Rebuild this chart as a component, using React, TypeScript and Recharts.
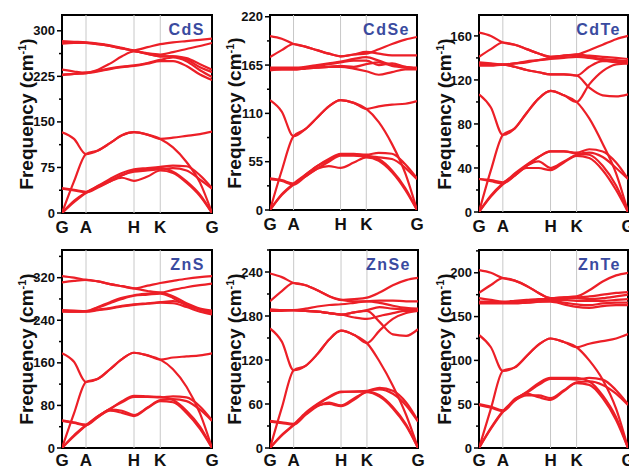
import React from "react";
import { LineChart, Line, XAxis, YAxis, ReferenceLine, ReferenceArea } from "recharts";

// q-path positions (fraction of the G-A-H-K-G path)
const qPoints = [0, 0.08, 0.16, 0.24, 0.32, 0.4, 0.48, 0.57, 0.655, 0.74, 0.83, 0.92, 1];
const symTicks = [0, 0.16, 0.48, 0.655, 1];
const symLabels = ["G", "A", "H", "K", "G"];

// phonon branches, frequency in cm-1 at each q point
const cdsBranches = [
  [283, 282, 281, 279, 276, 272, 268, 273, 278, 281, 283, 285, 287],
  [281, 281, 280, 278, 275, 271, 267, 263, 261, 265, 270, 275, 280],
  [279, 280, 280, 278, 275, 271, 267, 262, 258, 258, 253, 240, 232],
  [236, 233, 231, 236, 246, 258, 266, 262, 258, 258, 255, 245, 236],
  [228, 229, 231, 234, 238, 241, 243, 247, 252, 256, 250, 235, 224],
  [227, 229, 230, 233, 237, 240, 242, 246, 250, 250, 242, 228, 219],
  [0, 52, 97, 103, 115, 128, 133, 129, 122, 124, 127, 130, 134],
  [133, 122, 97, 103, 115, 128, 133, 129, 122, 108, 84, 50, 0],
  [0, 20, 34, 44, 53, 62, 70, 72, 74, 68, 52, 30, 0],
  [0, 18, 33, 43, 52, 58, 53, 60, 70, 66, 50, 28, 0],
  [41, 38, 35, 45, 56, 66, 72, 74, 76, 78, 77, 62, 41],
  [40, 37, 34, 42, 52, 62, 68, 70, 72, 74, 70, 55, 40],
];

const cdseBranches = [
  [198, 195, 189, 186, 182, 178, 175, 177, 178, 183, 189, 194, 197],
  [174, 182, 189, 186, 182, 178, 175, 177, 180, 178, 176, 176, 176],
  [162, 162, 162, 163, 165, 167, 169, 172, 174, 170, 165, 163, 162],
  [161, 161, 161, 162, 164, 166, 168, 170, 170, 165, 167, 163, 161],
  [160, 160, 160, 161, 162, 163, 164, 163, 166, 168, 164, 162, 161],
  [159, 160, 160, 161, 162, 163, 163, 161, 158, 154, 157, 160, 160],
  [0, 45, 84, 92, 105, 118, 125, 122, 115, 118, 120, 121, 124],
  [125, 112, 84, 92, 105, 118, 125, 122, 115, 100, 75, 42, 0],
  [0, 18, 30, 40, 50, 57, 63, 63, 62, 58, 45, 25, 0],
  [0, 17, 29, 38, 47, 50, 48, 54, 60, 56, 43, 23, 0],
  [36, 34, 30, 40, 50, 58, 64, 64, 63, 65, 64, 52, 36],
  [35, 33, 29, 38, 47, 55, 62, 62, 61, 60, 58, 48, 35],
];

const cdteBranches = [
  [163, 160, 154, 152, 148, 144, 141, 142, 143, 147, 152, 157, 160],
  [141, 148, 154, 152, 148, 144, 141, 142, 143, 142, 141, 140, 139],
  [136, 135, 134, 135, 137, 138, 140, 142, 143, 141, 139, 138, 137],
  [135, 134, 134, 135, 136, 138, 139, 140, 141, 140, 138, 136, 135],
  [134, 134, 134, 132, 129, 127, 125, 125, 124, 132, 137, 137, 136],
  [133, 133, 134, 132, 129, 127, 125, 125, 124, 113, 106, 105, 107],
  [0, 38, 70, 76, 90, 103, 110, 106, 100, 116, 128, 134, 135],
  [107, 95, 70, 76, 90, 103, 110, 106, 100, 85, 62, 35, 0],
  [0, 15, 26, 34, 42, 50, 55, 55, 53, 52, 42, 24, 0],
  [0, 14, 25, 33, 40, 40, 38, 45, 51, 49, 38, 20, 0],
  [30, 29, 27, 35, 43, 50, 55, 55, 54, 57, 55, 45, 30],
  [30, 28, 26, 33, 42, 46, 40, 46, 52, 54, 50, 40, 30],
];

const znsBranches = [
  [323, 320, 316, 313, 308, 304, 300, 305, 310, 314, 318, 321, 323],
  [311, 314, 316, 313, 308, 304, 300, 295, 292, 297, 302, 306, 309],
  [259, 258, 257, 265, 274, 282, 287, 290, 292, 285, 272, 262, 258],
  [258, 257, 257, 264, 272, 280, 286, 288, 290, 282, 268, 260, 255],
  [257, 256, 257, 260, 263, 267, 270, 272, 274, 276, 270, 260, 253],
  [256, 256, 256, 259, 262, 266, 269, 271, 273, 272, 265, 256, 251],
  [0, 65, 124, 130, 148, 167, 179, 174, 166, 170, 172, 174, 178],
  [178, 162, 124, 130, 148, 167, 179, 174, 166, 148, 115, 65, 0],
  [0, 24, 43, 60, 73, 88, 98, 97, 96, 90, 70, 40, 0],
  [0, 22, 42, 58, 70, 66, 60, 75, 88, 86, 66, 36, 0],
  [52, 48, 44, 60, 74, 86, 96, 96, 95, 97, 95, 78, 52],
  [51, 47, 43, 58, 72, 70, 62, 76, 90, 92, 88, 72, 51],
];

const znseBranches = [
  [238, 233, 225, 222, 215, 207, 202, 203, 205, 212, 222, 229, 232],
  [200, 214, 225, 222, 215, 207, 202, 200, 200, 201, 201, 200, 200],
  [189, 188, 188, 190, 193, 195, 196, 198, 200, 198, 194, 191, 190],
  [188, 188, 188, 187, 186, 184, 182, 185, 188, 192, 190, 189, 188],
  [187, 188, 188, 187, 186, 184, 182, 185, 187, 172, 155, 153, 162],
  [187, 187, 188, 187, 186, 184, 182, 178, 176, 180, 184, 187, 187],
  [0, 55, 106, 112, 128, 148, 160, 154, 143, 160, 176, 184, 187],
  [163, 145, 106, 112, 128, 148, 160, 154, 143, 118, 85, 45, 0],
  [0, 18, 32, 48, 60, 70, 77, 77, 77, 72, 56, 32, 0],
  [0, 17, 31, 46, 58, 60, 57, 66, 76, 70, 54, 30, 0],
  [37, 35, 33, 47, 59, 69, 76, 77, 78, 82, 78, 62, 37],
  [36, 34, 32, 45, 57, 62, 58, 68, 77, 80, 74, 58, 36],
];

const znteBranches = [
  [203, 200, 194, 191, 185, 177, 171, 172, 173, 180, 190, 197, 200],
  [177, 186, 194, 191, 185, 177, 171, 172, 172, 173, 175, 177, 178],
  [171, 169, 167, 168, 169, 170, 170, 171, 171, 170, 171, 173, 175],
  [167, 167, 166, 167, 168, 169, 169, 169, 168, 168, 168, 169, 170],
  [166, 166, 166, 166, 166, 167, 168, 166, 164, 163, 165, 166, 166],
  [165, 165, 165, 165, 166, 167, 167, 164, 161, 160, 162, 163, 163],
  [0, 45, 88, 92, 105, 118, 125, 121, 115, 119, 122, 125, 130],
  [129, 115, 88, 92, 105, 118, 125, 121, 115, 100, 78, 45, 0],
  [0, 23, 42, 55, 64, 74, 80, 80, 80, 76, 60, 35, 0],
  [0, 22, 41, 54, 62, 58, 55, 65, 74, 72, 57, 32, 0],
  [50, 47, 43, 56, 63, 72, 79, 79, 78, 80, 78, 66, 50],
  [49, 46, 42, 54, 60, 60, 57, 66, 75, 76, 72, 62, 49],
];

const materials = ["CdS", "CdSe", "CdTe", "ZnS", "ZnSe", "ZnTe"];
const allBranches = [cdsBranches, cdseBranches, cdteBranches, znsBranches, znseBranches, znteBranches];
const yMaxes = [326, 222, 179, 372, 270, 226];
const majorTicks = [
  [0, 75, 150, 225, 300],
  [0, 55, 110, 165, 220],
  [0, 40, 80, 120, 160],
  [0, 80, 160, 240, 320],
  [0, 60, 120, 180, 240],
  [0, 50, 100, 150, 200],
];
const minorSteps = [37.5, 27.5, 20, 40, 30, 25];

// plot boxes in page pixels: left, top, width, height, y-label centre x, x-label gap
const boxes = [
  { l: 62, t: 15, w: 150, h: 198, lx: 24, gap: 8 },
  { l: 270, t: 15, w: 147, h: 195, lx: 232, gap: 8 },
  { l: 479, t: 15, w: 149, h: 197, lx: 442, gap: 8 },
  { l: 62, t: 250, w: 150, h: 198, lx: 24, gap: 6 },
  { l: 270, t: 250, w: 148, h: 198, lx: 232, gap: 6 },
  { l: 479, t: 250, w: 149, h: 198, lx: 442, gap: 6 },
];

const FONT = "'Liberation Sans', Arial, Helvetica, sans-serif";
const RED = "#ec1f27";

function YTick(props: any) {
  const { x, y, payload, majors } = props;
  const major = majors.some((m: number) => Math.abs(m - payload.value) < 0.01);
  return (
    <g>
      <line x1={x} x2={x - (major ? 5 : 3)} y1={y} y2={y} stroke="#000" strokeWidth={1.5} />
      {major && (
        <text x={x - 7} y={y} dy={4.6} textAnchor="end" fontSize={13} fontWeight={700} fontFamily={FONT} fill="#111">
          {payload.value}
        </text>
      )}
    </g>
  );
}

function Panel({ idx }: { idx: number }) {
  const box = boxes[idx];
  const yMax = yMaxes[idx];
  const majors = majorTicks[idx];
  const ticks: number[] = [];
  for (let v = 0; v <= yMax + 0.001; v += minorSteps[idx]) ticks.push(v);
  const series = allBranches[idx].map((b) => b.map((y, i) => ({ x: qPoints[i], y })));
  const mL = 50, mT = 5, mR = 8, xH = 26;

  return (
    <>
      <div style={{ position: "absolute", left: box.l - mL, top: box.t - mT }}>
        <LineChart width={box.w + mL + mR} height={box.h + mT + xH} margin={{ top: mT, right: mR, left: 0, bottom: 0 }}>
          <XAxis
            type="number"
            dataKey="x"
            domain={[0, 1]}
            ticks={symTicks}
            interval={0}
            tickFormatter={(v: number) => symLabels[symTicks.indexOf(v)]}
            height={xH}
            axisLine={false}
            tickLine={false}
            tickSize={0}
            tickMargin={box.gap}
            tick={{ fill: "#111", fontSize: 17, fontWeight: 700, fontFamily: FONT }}
            allowDataOverflow
          />
          <YAxis
            type="number"
            domain={[0, yMax]}
            ticks={ticks}
            interval={0}
            width={mL}
            axisLine={false}
            tickLine={false}
            tickSize={0}
            tickMargin={0}
            tick={(p: any) => <YTick {...p} majors={majors} />}
            allowDataOverflow
          />
          {symTicks.slice(1, 4).map((x) => (
            <ReferenceLine key={x} x={x} stroke="#c8c8c8" strokeWidth={1} />
          ))}
          {series.map((d, i) => (
            <Line
              key={i}
              data={d}
              dataKey="y"
              type="monotone"
              stroke={RED}
              strokeWidth={2.2}
              dot={false}
              isAnimationActive={false}
            />
          ))}
          <ReferenceArea x1={0} x2={1} y1={0} y2={yMax} fill="none" fillOpacity={0} stroke="#000" strokeWidth={2} />
        </LineChart>
      </div>
      <div
        style={{
          position: "absolute",
          left: box.lx,
          top: box.t + box.h / 2,
          transform: "translate(-50%, -50%) rotate(-90deg)",
          whiteSpace: "nowrap",
          fontFamily: FONT,
          fontWeight: 700,
          fontSize: 19,
          color: "#111",
          lineHeight: "20px",
        }}
      >
        Frequency (cm<sup style={{ fontSize: 11, verticalAlign: "7px" }}>-1</sup>)
      </div>
      <div
        style={{
          position: "absolute",
          right: 629 - (box.l + box.w - 7),
          top: box.t + 6,
          fontFamily: FONT,
          fontWeight: 700,
          fontSize: 16,
          lineHeight: "18px",
          letterSpacing: 1.5,
          color: "#3a4b9f",
        }}
      >
        {materials[idx]}
      </div>
    </>
  );
}

export default function App() {
  return (
    <div style={{ position: "absolute", left: 0, top: 0, width: 629, height: 469, background: "#fff", overflow: "hidden" }}>
      {materials.map((m, i) => (
        <Panel key={m} idx={i} />
      ))}
    </div>
  );
}
